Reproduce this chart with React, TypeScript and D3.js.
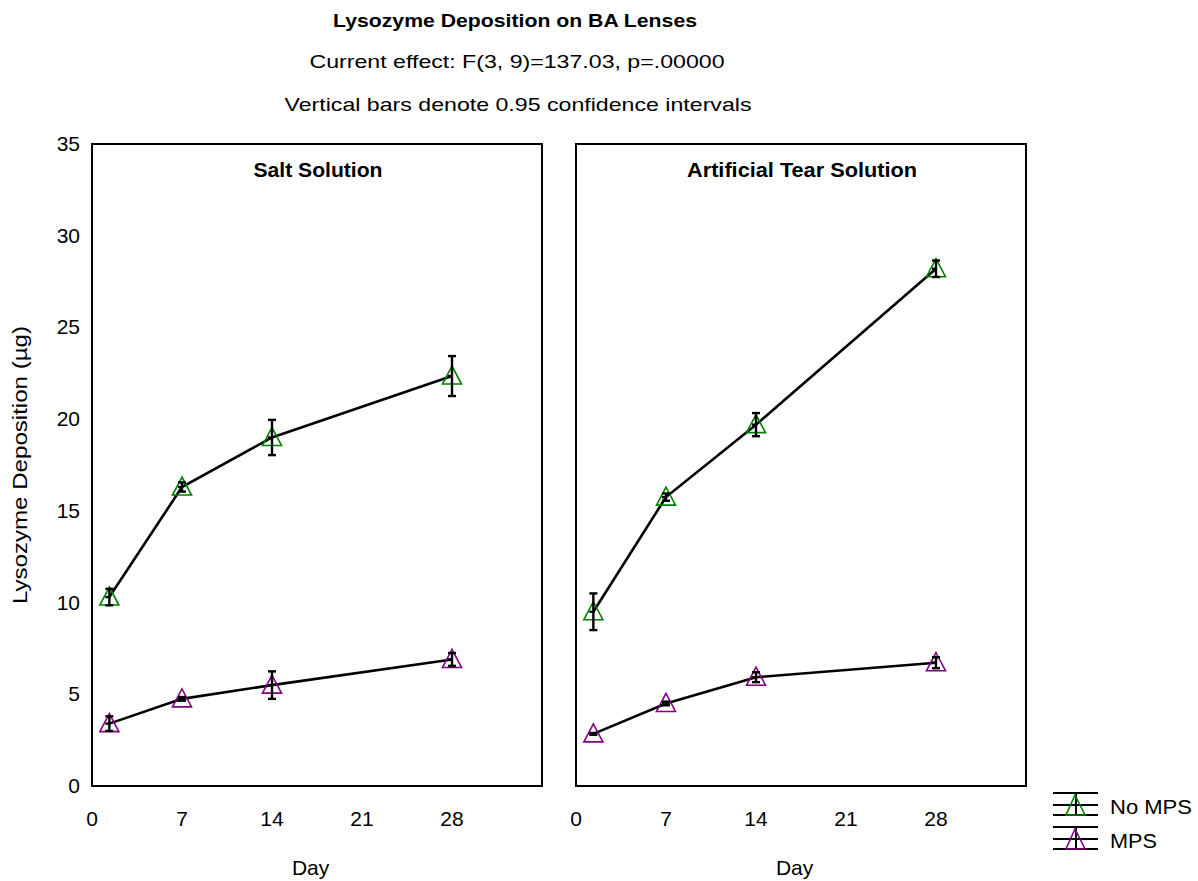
import React from "react";
import * as d3 from "d3";

const days = [1.35, 7, 14, 28];
const xTicks = [0, 7, 14, 21, 28];
const yTicks = [0, 5, 10, 15, 20, 25, 30, 35];
const panels = ["Salt Solution", "Artificial Tear Solution"];
const panelTitleWidths = [129, 230];
const seriesNames = ["No MPS", "MPS"];
const legendWidths = [82, 47];
const seriesColors = ["#008000", "#800080"];

const saltNoMps = [10.3, 16.3, 19.0, 22.35];
const saltNoMpsCI = [0.45, 0.25, 0.96, 1.09];
const saltMps = [3.4, 4.75, 5.5, 6.9];
const saltMpsCI = [0.4, 0.1, 0.75, 0.35];
const tearNoMps = [9.5, 15.75, 19.7, 28.2];
const tearNoMpsCI = [1.0, 0.2, 0.63, 0.45];
const tearMps = [2.84, 4.5, 5.93, 6.72];
const tearMpsCI = [0.05, 0.1, 0.27, 0.3];

const panelData = [
  [
    { mean: saltNoMps, ci: saltNoMpsCI },
    { mean: saltMps, ci: saltMpsCI },
  ],
  [
    { mean: tearNoMps, ci: tearNoMpsCI },
    { mean: tearMps, ci: tearMpsCI },
  ],
];

const FONT = "'Liberation Sans', Arial, sans-serif";

function Triangle({ cx, cy, color }: { cx: number; cy: number; color: string }) {
  const w = 19;
  const h = 18;
  const pts = [
    [cx, cy - h / 2 - 1],
    [cx - w / 2, cy + h / 2 - 1],
    [cx + w / 2, cy + h / 2 - 1],
  ];
  return (
    <polygon
      points={pts.map((p) => p.join(",")).join(" ")}
      fill="none"
      stroke={color}
      strokeWidth={1.6}
    />
  );
}

export default function App() {
  const width = 1198;
  const height = 881;
  const top = 144;
  const bottom = 786;
  const panelX = [92, 576];
  const panelW = 450;

  const y = d3.scaleLinear().domain([0, 35]).range([bottom, top]);

  return (
    <svg width={width} height={height} style={{ position: "absolute", left: 0, top: 0 }} fontFamily={FONT}>
      <rect x={0} y={0} width={width} height={height} fill="white" />
      <text x={515} y={27} textAnchor="middle" fontWeight="bold" fontSize={18} textLength={364} lengthAdjust="spacingAndGlyphs">
        Lysozyme Deposition on BA Lenses
      </text>
      <text x={517} y={68} textAnchor="middle" fontSize={19} textLength={415} lengthAdjust="spacingAndGlyphs">
        Current effect: F(3, 9)=137.03, p=.00000
      </text>
      <text x={518} y={111} textAnchor="middle" fontSize={19} textLength={467} lengthAdjust="spacingAndGlyphs">
        Vertical bars denote 0.95 confidence intervals
      </text>

      {yTicks.map((t) => (
        <text key={t} x={80} y={y(t) + 7} textAnchor="end" fontSize={21}>
          {t}
        </text>
      ))}
      <text
        transform={`translate(27,${(top + bottom) / 2}) rotate(-90)`}
        textAnchor="middle"
        fontSize={20}
        textLength={278}
        lengthAdjust="spacingAndGlyphs"
      >
        Lysozyme Deposition (µg)
      </text>

      {panels.map((title, pi) => {
        const x0 = panelX[pi];
        const x = d3.scaleLinear().domain([0, 35]).range([x0, x0 + panelW]);
        const line = d3
          .line<number>()
          .x((_, i) => x(days[i]))
          .y((v) => y(v));
        return (
          <g key={title}>
            <rect x={x0} y={top} width={panelW} height={bottom - top} fill="none" stroke="#000" strokeWidth={2} />
            <text
              x={x0 + panelW / 2 + 1}
              y={177}
              textAnchor="middle"
              fontWeight="bold"
              fontSize={20}
              textLength={panelTitleWidths[pi]}
              lengthAdjust="spacingAndGlyphs"
            >
              {title}
            </text>
            {xTicks.map((t) => (
              <text key={t} x={x(t)} y={826} textAnchor="middle" fontSize={21}>
                {t}
              </text>
            ))}
            <text x={x(17)} y={875} textAnchor="middle" fontSize={21}>
              Day
            </text>
            {panelData[pi].map((s, si) => (
              <g key={si}>
                <path d={line(s.mean) || ""} fill="none" stroke="#000" strokeWidth={2.6} />
                {s.mean.map((m, i) => {
                  const cx = x(days[i]);
                  const lo = y(m - s.ci[i]);
                  const hi = y(m + s.ci[i]);
                  return (
                    <g key={i}>
                      <Triangle cx={cx} cy={y(m)} color={seriesColors[si]} />
                      <line x1={cx} x2={cx} y1={lo} y2={hi} stroke="#000" strokeWidth={2.4} />
                      <line x1={cx - 4} x2={cx + 4} y1={lo} y2={lo} stroke="#000" strokeWidth={2.4} />
                      <line x1={cx - 4} x2={cx + 4} y1={hi} y2={hi} stroke="#000" strokeWidth={2.4} />
                      <line x1={cx - 4} x2={cx + 1} y1={y(m)} y2={y(m)} stroke="#000" strokeWidth={2.4} />
                    </g>
                  );
                })}
              </g>
            ))}
          </g>
        );
      })}

      {seriesNames.map((name, i) => {
        const ly = 793 + i * 34;
        return (
          <g key={name}>
            <line x1={1053} x2={1098} y1={ly} y2={ly} stroke="#000" strokeWidth={2} />
            <line x1={1053} x2={1098} y1={ly + 12} y2={ly + 12} stroke="#000" strokeWidth={2} />
            <line x1={1053} x2={1098} y1={ly + 22} y2={ly + 22} stroke="#000" strokeWidth={2} />
            <line x1={1076} x2={1076} y1={ly} y2={ly + 22} stroke="#000" strokeWidth={2} />
            <polygon
              points={`1075,${ly + 2} 1066,${ly + 22} 1085,${ly + 22}`}
              fill="none"
              stroke={seriesColors[i]}
              strokeWidth={1.6}
            />
            <text x={1110} y={ly + 21} fontSize={20} textLength={legendWidths[i]} lengthAdjust="spacingAndGlyphs">
              {name}
            </text>
          </g>
        );
      })}
    </svg>
  );
}
